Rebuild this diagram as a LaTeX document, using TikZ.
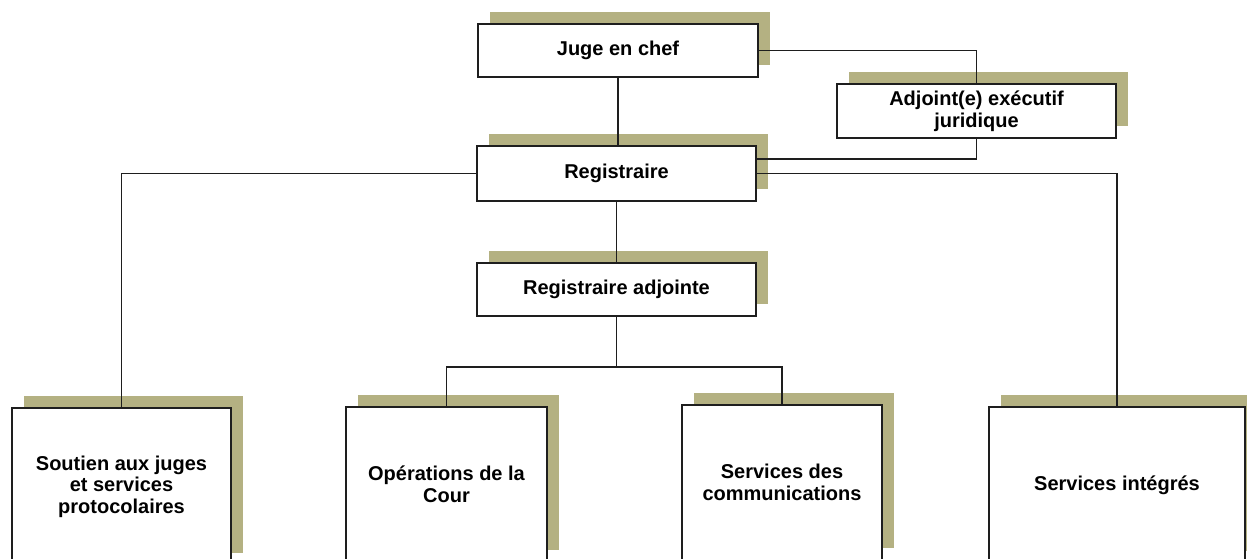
\documentclass[tikz,border=0pt]{standalone}
\usepackage{fontspec}
\setmainfont{Liberation Sans}
\usetikzlibrary{shadows,calc}
\definecolor{shcol}{RGB}{180,177,130}
\definecolor{lncol}{RGB}{30,30,30}
\tikzset{
  orgbox/.style={draw=lncol, line width=2pt, fill=white, align=center,
    font=\fontsize{20}{21.5}\selectfont\bfseries, inner sep=0pt,
    drop shadow={shadow xshift=12pt, shadow yshift=12pt, fill=shcol, opacity=1}},
  link/.style={draw=lncol, line width=1.7pt}
}
\begin{document}
\begin{tikzpicture}[x=1pt,y=1pt]
\clip (0,0) rectangle (1247,-558);
\fill[white] (0,0) rectangle (1247,-558);
% top level
\node[orgbox, minimum width=280pt, minimum height=53pt] (juge) at (618,-50.5) {Juge en chef};
\node[orgbox, minimum width=279pt, minimum height=54pt] (adj) at (976.5,-111) {Adjoint(e) exécutif\\juridique};
\node[orgbox, minimum width=279pt, minimum height=55pt] (reg) at (616.5,-173.5) {Registraire};
\node[orgbox, minimum width=279pt, minimum height=53pt] (rega) at (616.5,-289.5) {Registraire adjointe};
% bottom row
\node[orgbox, minimum width=219pt, minimum height=157pt] (sout) at (121.5,-486.5) {Soutien aux juges\\et services\\protocolaires};
\node[orgbox, minimum width=201pt, minimum height=155pt] (oper) at (446.5,-484.5) {Opérations de la\\Cour};
\node[orgbox, minimum width=200pt, minimum height=155pt] (comm) at (782,-482.5) {Services des\\communications};
\node[orgbox, minimum width=256pt, minimum height=156pt] (integ) at (1117,-485) {Services intégrés};
% connectors
\coordinate (split) at (616.5,-367);
\coordinate (adjin) at ($(reg.north east)!0.25!(reg.south east)$);
\path[link] (juge.south) -- (juge.south |- reg.north);
\path[link] (juge.east) -| (adj.north);
\path[link] (adj.south) |- (adjin);
\path[link] (reg.east) -| (integ.north);
\path[link] (reg.west) -| (sout.north);
\path[link] (reg.south) -- (rega.north);
\path[link] (rega.south) -- (split);
\path[link] (split) -| (oper.north);
\path[link] (split) -| (comm.north);
\end{tikzpicture}
\end{document}
